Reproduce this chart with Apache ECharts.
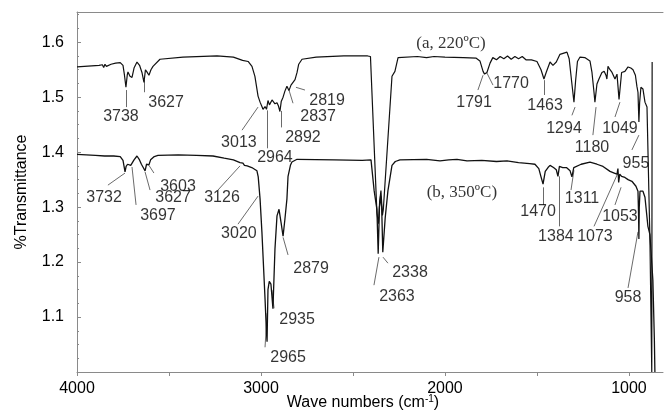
<!DOCTYPE html>
<html>
<head>
<meta charset="utf-8">
<script src="https://cdn.jsdelivr.net/npm/echarts@6/dist/echarts.min.js"></script>
<style>
  html, body { margin: 0; padding: 0; background: #fff; }
  #main { width: 664px; height: 413px; }
</style>
</head>
<body>
<div id="main"></div>
<script>
// spectrum (a, 220ºC): [wave number, transmittance]
var spectrumA = [
  [4000,1.555],[3960,1.556],[3920,1.557],[3880,1.558],[3870,1.556],[3862,1.559],[3855,1.554],
  [3848,1.56],[3840,1.556],[3830,1.559],[3815,1.56],[3790,1.562],[3765,1.563],[3750,1.558],
  [3742,1.54],[3734,1.518],[3727,1.54],[3723,1.546],[3712,1.538],[3701,1.536],[3690,1.553],
  [3674,1.564],[3660,1.558],[3647,1.545],[3636,1.527],[3628,1.55],[3620,1.546],[3609,1.54],
  [3598,1.55],[3587,1.556],[3549,1.569],[3424,1.573],[3239,1.575],[3150,1.573],[3100,1.567],
  [3070,1.565],[3049,1.556],[3033,1.538],[3016,1.502],[3005,1.491],[2995,1.483],[2989,1.478],
  [2978,1.483],[2970,1.478],[2967,1.476],[2962,1.494],[2954,1.486],[2946,1.484],[2940,1.495],
  [2935,1.496],[2924,1.488],[2913,1.49],[2905,1.484],[2897,1.474],[2890,1.492],[2880,1.5],
  [2870,1.511],[2859,1.52],[2848,1.512],[2837,1.522],[2826,1.527],[2815,1.532],[2804,1.545],
  [2795,1.56],[2777,1.569],[2700,1.573],[2550,1.575],[2420,1.575],[2405,1.574],[2370,1.29],
  [2362,1.27],[2355,1.31],[2348,1.33],[2340,1.285],[2335,1.296],[2288,1.538],[2272,1.547],
  [2255,1.572],[2245,1.575],[2150,1.574],[2100,1.572],[2060,1.574],[2000,1.573],[1900,1.572],
  [1830,1.571],[1810,1.566],[1793,1.547],[1785,1.542],[1772,1.545],[1755,1.562],[1740,1.572],
  [1720,1.568],[1700,1.574],[1680,1.57],[1660,1.575],[1640,1.569],[1620,1.574],[1600,1.57],
  [1580,1.574],[1560,1.568],[1530,1.568],[1500,1.565],[1478,1.55],[1462,1.533],[1450,1.545],
  [1429,1.564],[1413,1.558],[1395,1.564],[1375,1.578],[1337,1.582],[1325,1.57],[1312,1.53],
  [1299,1.491],[1290,1.53],[1280,1.565],[1266,1.573],[1240,1.572],[1212,1.566],[1201,1.545],
  [1190,1.509],[1185,1.491],[1174,1.524],[1163,1.533],[1147,1.545],[1135,1.547],[1125,1.54],
  [1120,1.533],[1114,1.556],[1103,1.55],[1092,1.545],[1076,1.533],[1065,1.542],[1054,1.496],
  [1040,1.545],[1022,1.547],[1005,1.555],[990,1.553],[978,1.55],[965,1.54],[957,1.52],
  [951,1.509],[946,1.455],[942,1.49],[935,1.518],[924,1.515],[913,1.491],[902,1.482],
  [886,1.24],[876,1.0],[875,1.0],[874,1.564]
];

// spectrum (b, 350ºC)
var spectrumB = [
  [4000,1.396],[3950,1.395],[3900,1.394],[3850,1.393],[3800,1.393],[3765,1.392],[3750,1.385],
  [3742,1.37],[3739,1.364],[3733,1.374],[3725,1.378],[3715,1.38],[3708,1.376],[3701,1.373],
  [3690,1.386],[3674,1.393],[3662,1.387],[3650,1.378],[3640,1.372],[3630,1.366],[3622,1.378],
  [3615,1.381],[3609,1.377],[3600,1.386],[3580,1.392],[3560,1.394],[3450,1.395],[3350,1.394],
  [3261,1.393],[3200,1.389],[3150,1.386],[3114,1.381],[3105,1.378],[3098,1.38],[3090,1.376],
  [3082,1.379],[3075,1.375],[3068,1.377],[3050,1.372],[3035,1.369],[3022,1.366],[3015,1.355],
  [3005,1.315],[2995,1.255],[2978,1.133],[2970,1.07],[2967,1.055],[2962,1.15],[2955,1.165],
  [2946,1.16],[2935,1.115],[2924,1.224],[2913,1.284],[2902,1.296],[2890,1.27],[2880,1.247],
  [2870,1.278],[2859,1.315],[2853,1.356],[2840,1.376],[2832,1.382],[2804,1.387],[2600,1.386],
  [2450,1.385],[2402,1.386],[2385,1.33],[2370,1.296],[2363,1.215],[2356,1.3],[2350,1.32],
  [2344,1.3],[2338,1.218],[2325,1.28],[2310,1.33],[2288,1.376],[2270,1.383],[2245,1.386],
  [2100,1.387],[2027,1.384],[1980,1.386],[1935,1.387],[1880,1.384],[1800,1.385],[1720,1.383],
  [1663,1.384],[1600,1.381],[1540,1.379],[1511,1.378],[1490,1.37],[1478,1.355],[1467,1.342],
  [1455,1.365],[1440,1.372],[1429,1.376],[1410,1.372],[1395,1.368],[1386,1.356],[1378,1.374],
  [1360,1.372],[1340,1.372],[1320,1.366],[1310,1.355],[1300,1.372],[1260,1.378],[1212,1.382],
  [1174,1.378],[1141,1.374],[1103,1.365],[1080,1.362],[1065,1.36],[1060,1.37],[1056,1.345],
  [1050,1.36],[1040,1.356],[1022,1.354],[1005,1.35],[984,1.347],[962,1.338],[951,1.329],
  [948,1.29],[946,1.242],[944,1.3],[940,1.329],[924,1.329],[913,1.318],[897,1.265],
  [886,1.25],[870,1.167],[862,1.06],[859,1.0]
];

// axis ticks
var xTickLabels = [4000, 3000, 2000, 1000];
var xTickMarks = [4000, 3500, 3000, 2500, 2000, 1500, 1000];
var yTickLabels = [1.1, 1.2, 1.3, 1.4, 1.5, 1.6];

// peak labels: [text, wave number, transmittance]
var peakLabels = [
  ['3738',3761,1.464],['3627',3516,1.491],['3013',3120,1.418],['2964',2924,1.391],
  ['2892',2772,1.427],['2837',2690,1.465],['2819',2641,1.493],['1791',1842,1.491],
  ['1770',1641,1.524],['1463',1456,1.484],['1294',1353,1.442],['1180',1201,1.409],
  ['1049',1049,1.442],['955',962,1.38],
  ['3732',3853,1.318],['3697',3560,1.285],['3627',3478,1.318],['3603',3451,1.338],
  ['3126',3212,1.318],['3020',3120,1.251],['2879',2728,1.189],['2935',2804,1.096],
  ['2965',2853,1.027],['2338',2190,1.18],['2363',2261,1.138],['1470',1494,1.291],
  ['1384',1397,1.247],['1073',1185,1.247],['1053',1049,1.282],['1311',1255,1.315],
  ['958',1005,1.136]
];

// pointer lines from label to peak: [wn1, t1, wn2, t2]
var pointerLines = [
  [3734,1.482,3734,1.513],[3636,1.509,3636,1.531],[3103,1.44,3016,1.482],[2967,1.407,2967,1.476],
  [2891,1.445,2891,1.475],[2826,1.489,2848,1.513],[2761,1.513,2810,1.518],[1821,1.513,1793,1.54],
  [1739,1.522,1772,1.544],[1462,1.504,1462,1.531],[1310,1.467,1293,1.482],[1196,1.431,1179,1.482],
  [1076,1.464,1049,1.491],[984,1.404,946,1.431],
  [3832,1.34,3739,1.362],[3679,1.304,3701,1.373],[3603,1.331,3630,1.364],[3582,1.362,3609,1.376],
  [3234,1.331,3114,1.375],[3125,1.269,3016,1.32],[2853,1.213,2880,1.245],[2929,1.116,2940,1.149],
  [2978,1.045,2967,1.107],[2310,1.198,2337,1.209],[2386,1.158,2359,1.209],[1467,1.304,1467,1.336],
  [1380,1.265,1380,1.356],[1190,1.265,1060,1.362],[1076,1.304,1043,1.336],[1315,1.331,1299,1.367],
  [1005,1.153,951,1.255]
];

// series captions: [text, wave number, transmittance]
var captions = [
  ['(a, 220ºC)', 1967, 1.598],
  ['(b, 350ºC)', 1908, 1.327]
];

var chart = echarts.init(document.getElementById('main'), null, { renderer: 'canvas' });
var sans = "'Liberation Sans', Arial, sans-serif";
var axisGray = '#8a8a8a';

var option = {
  animation: false,
  grid: { left: 77, right: 1, top: 12, bottom: 41, containLabel: false, outerBoundsMode: 'none' },
  xAxis: [
    {
      type: 'value',
      inverse: true,
      min: 815,
      max: 4000,
      name: '{t|Wave numbers (cm}{s|-1}{t|)}',
      nameLocation: 'middle',
      nameGap: 22,
      nameMoveOverlap: false,
      nameTextStyle: {
        rich: {
          t: { fontFamily: sans, fontSize: 16, color: '#000', lineHeight: 18 },
          s: { fontFamily: sans, fontSize: 10, color: '#000', verticalAlign: 'top', lineHeight: 18 }
        },
        padding: [0, 14, 0, 0]
      },
      axisLine: { show: true, lineStyle: { color: axisGray, width: 1 } },
      axisTick: { show: true, length: 4, customValues: xTickMarks, lineStyle: { color: axisGray } },
      axisLabel: {
        customValues: xTickLabels,
        margin: 9,
        fontFamily: sans, fontSize: 16, color: '#000',
        formatter: function (v) { return String(Math.round(v)); }
      },
      splitLine: { show: false }
    },
    {
      type: 'value',
      inverse: true,
      min: 815,
      max: 4000,
      position: 'top',
      axisLine: { show: true, onZero: false, lineStyle: { color: axisGray, width: 1 } },
      axisTick: { show: false },
      axisLabel: { show: false },
      splitLine: { show: false }
    }
  ],
  yAxis: {
    type: 'value',
    min: 1.0,
    max: 1.655,
    interval: 0.1,
    name: '%Transmittance',
    nameLocation: 'middle',
    nameGap: 47,
    nameMoveOverlap: false,
    nameTextStyle: { fontFamily: sans, fontSize: 16, color: '#000' },
    axisLine: { show: true, lineStyle: { color: axisGray, width: 1 } },
    axisTick: { show: true, inside: true, length: 4, lineStyle: { color: axisGray } },
    minorTick: { show: true, splitNumber: 4, length: 2, lineStyle: { color: axisGray } },
    axisLabel: {
      margin: 13,
      fontFamily: sans, fontSize: 16, color: '#000',
      formatter: function (v) {
        for (var i = 0; i < yTickLabels.length; i++) {
          if (Math.abs(yTickLabels[i] - v) < 1e-6) return yTickLabels[i].toFixed(1);
        }
        return '';
      }
    },
    splitLine: { show: false }
  },
  series: [
    {
      name: 'a',
      type: 'line',
      data: spectrumA,
      showSymbol: false,
      symbol: 'none',
      lineStyle: { color: '#111', width: 1.2 },
      z: 3
    },
    {
      name: 'b',
      type: 'line',
      data: spectrumB,
      showSymbol: false,
      symbol: 'none',
      lineStyle: { color: '#111', width: 1.3 },
      z: 3
    },
    {
      name: 'pointers',
      type: 'lines',
      coordinateSystem: 'cartesian2d',
      polyline: false,
      silent: true,
      lineStyle: { color: '#444', width: 0.8, opacity: 1 },
      data: pointerLines.map(function (p) {
        return { coords: [[p[0], p[1]], [p[2], p[3]]] };
      }),
      z: 2
    },
    {
      name: 'labels',
      type: 'scatter',
      symbolSize: 0,
      silent: true,
      data: peakLabels.map(function (p) { return [p[1], p[2], p[0]]; }),
      label: {
        show: true,
        position: 'inside',
        formatter: function (p) { return p.value[2]; },
        fontFamily: sans, fontSize: 16, color: '#000'
      },
      z: 4
    },
    {
      name: 'captions',
      type: 'scatter',
      symbolSize: 0,
      silent: true,
      data: captions.map(function (c) { return [c[1], c[2], c[0]]; }),
      label: {
        show: true,
        position: 'inside',
        formatter: function (p) { return p.value[2]; },
        fontFamily: "'Liberation Serif', 'Times New Roman', serif",
        fontSize: 17, color: '#000'
      },
      z: 4
    }
  ]
};
chart.setOption(option);
</script>
</body>
</html>
